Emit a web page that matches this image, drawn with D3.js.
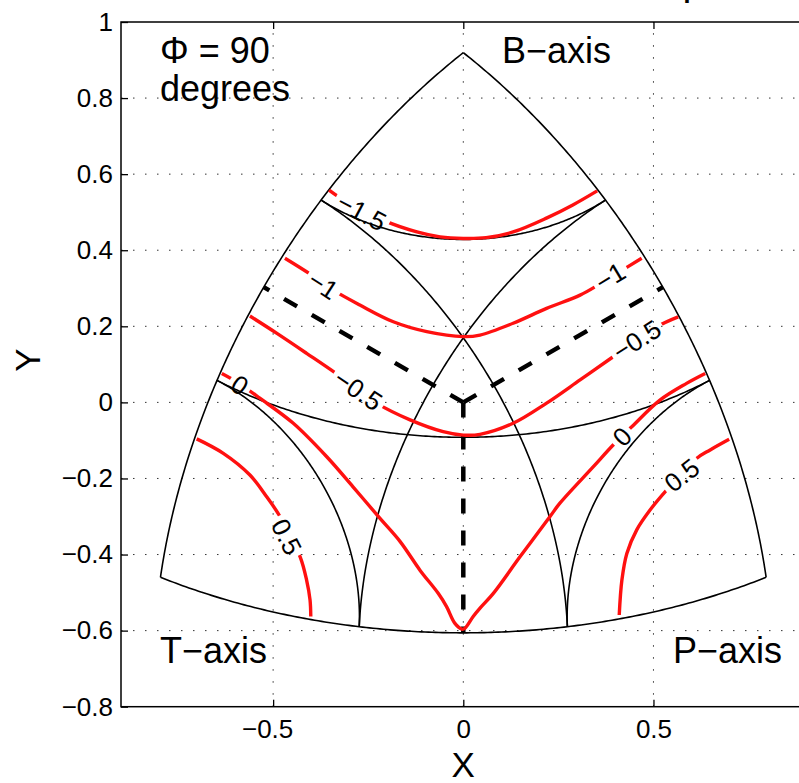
<!DOCTYPE html>
<html lang="en">
<head>
<meta charset="UTF-8">
<title>Kaverina diagram</title>
<style>
  body { margin: 0; background: #fff; }
  svg { display: block; }
  text { font-family: "Liberation Sans", Arial, Helvetica, sans-serif; fill: #000; }
</style>
</head>
<body>
<div id="wrapper"></div>
<script src="https://cdn.jsdelivr.net/npm/d3@7"></script>
<script>
{
    // ticks
    const xTicks = [-0.5, 0, 0.5];
    const yTicks = [-0.8, -0.6, -0.4, -0.2, 0, 0.2, 0.4, 0.6, 0.8, 1];

    // plunges (deg) of the class boundaries drawn in black
    const boundaryPlunges = [30, 60];

    // contour lines, [x, y]
    const contourM15 = [[-0.353, 0.558], [-0.327, 0.540], [-0.272, 0.511], [-0.211, 0.479], [-0.122, 0.448],
        [-0.061, 0.435], [0.000, 0.431], [0.060, 0.433], [0.131, 0.448], [0.220, 0.485], [0.288, 0.519], [0.352, 0.556]];
    const contourM1 = [[-0.469, 0.379], [-0.399, 0.335], [-0.342, 0.295], [-0.272, 0.256], [-0.184, 0.212],
        [-0.096, 0.186], [0.000, 0.173], [0.044, 0.177], [0.131, 0.208], [0.219, 0.247], [0.307, 0.282],
        [0.355, 0.309], [0.412, 0.344], [0.469, 0.379]];
    const contourM05 = [[-0.561, 0.227], [-0.491, 0.182], [-0.412, 0.129], [-0.333, 0.075], [-0.228, -0.002],
        [-0.140, -0.046], [-0.053, -0.077], [0.000, -0.086], [0.044, -0.084], [0.131, -0.055], [0.219, -0.002],
        [0.307, 0.059], [0.394, 0.120], [0.509, 0.199], [0.565, 0.225]];
    const contour0 = [[-0.635, 0.076], [-0.596, 0.054], [-0.535, 0.011], [-0.447, -0.055], [-0.359, -0.143],
        [-0.290, -0.222], [-0.219, -0.305], [-0.166, -0.366], [-0.114, -0.441], [-0.066, -0.502], [-0.044, -0.537],
        [-0.022, -0.581], [-0.004, -0.596], [0.004, -0.594], [0.026, -0.563], [0.044, -0.541], [0.079, -0.502],
        [0.149, -0.406], [0.228, -0.300], [0.254, -0.265], [0.342, -0.169], [0.394, -0.112], [0.443, -0.064],
        [0.517, 0.006], [0.587, 0.050], [0.636, 0.076]];
    const contour05Left = [[-0.701, -0.096], [-0.631, -0.134], [-0.561, -0.191], [-0.517, -0.248], [-0.482, -0.300],
        [-0.429, -0.406], [-0.412, -0.467], [-0.403, -0.519], [-0.401, -0.563]];
    const contour05Right = [[0.699, -0.097], [0.649, -0.125], [0.614, -0.147], [0.535, -0.230], [0.491, -0.283],
        [0.456, -0.335], [0.430, -0.397], [0.417, -0.467], [0.410, -0.559]];

    // contour labels
    const labelText = ['\u22121.5', '\u22121', '\u22121', '\u22120.5', '\u22120.5', '0', '0', '0.5', '0.5'];
    const labelX = [-0.267, -0.368, 0.386, -0.276, 0.456, -0.587, 0.417, -0.464, 0.574];
    const labelY = [0.501, 0.309, 0.331, 0.033, 0.164, 0.046, -0.090, -0.353, -0.191];
    const labelAngle = [28, 33, -31, 34, -33, 33, -45, 63, -38];

    const width = 799;
    const height = 783;

    const x = d3.scaleLinear().domain([-0.9, 0.9]).range([121, 805.6]);
    const y = d3.scaleLinear().domain([-0.8, 1]).range([706.7, 22]);

    const svg = d3.select('#wrapper').append('svg')
        .attr('width', width)
        .attr('height', height);

    svg.append('clipPath').attr('id', 'plotClip')
        .append('rect')
        .attr('x', x(-0.9)).attr('y', y(1))
        .attr('width', x(0.9) - x(-0.9)).attr('height', y(-0.8) - y(1));

    // title, cut off at the top of the picture (only the comma and the p show)
    const titleText = 'Total shear stress, stress map';
    const title = svg.append('text')
        .attr('y', -5)
        .attr('font-size', 40)
        .text(titleText);
    const beforeComma = title.node().getSubStringLength(0, titleText.indexOf(','));
    title.attr('x', 487 - beforeComma);

    // grid
    const grid = svg.append('g')
        .attr('stroke', '#333')
        .attr('stroke-width', 1)
        .attr('stroke-dasharray', '1.5,10.5');
    grid.selectAll('.gx').data(xTicks).enter().append('line')
        .attr('x1', d => x(d)).attr('x2', d => x(d))
        .attr('y1', y(-0.8)).attr('y2', y(1));
    grid.selectAll('.gy').data(yTicks.filter(d => d > -0.8 && d < 1)).enter().append('line')
        .attr('y1', d => y(d)).attr('y2', d => y(d))
        .attr('x1', x(-0.9)).attr('x2', x(0.9));

    // Kaverina projection, z = sine of the plunge of T, B, P
    function kave(zt, zb, zp) {
        const n = Math.sqrt(2 * ((zb - zp) ** 2 + (zb - zt) ** 2 + (zt - zp) ** 2));
        if (n < 1e-9) return [0, 0];
        const l = 2 * Math.sin(0.5 * Math.acos(Math.min(1, (zt + zb + zp) / Math.sqrt(3))));
        return [Math.sqrt(3) * (l / n) * (zp - zt), (l / n) * (2 * zb - zp - zt)];
    }

    // curve of constant plunge for one axis
    function arc(axis, s) {
        const r = Math.sqrt(1 - s * s);
        return d3.range(0, 181).map(i => {
            const a = i * Math.PI / 360;
            const u = r * Math.cos(a), v = r * Math.sin(a);
            if (axis === 'b') return kave(u, s, v);
            if (axis === 't') return kave(s, u, v);
            return kave(u, v, s);
        });
    }

    const line = d3.line().x(d => x(d[0])).y(d => y(d[1]));
    const plot = svg.append('g').attr('clip-path', 'url(#plotClip)');

    // outline and class boundaries
    const arcs = [];
    ['b', 't', 'p'].forEach(axis => {
        arcs.push(arc(axis, 0));
        boundaryPlunges.forEach(p => arcs.push(arc(axis, Math.sin(p * Math.PI / 180))));
    });
    plot.append('g').selectAll('path').data(arcs).enter().append('path')
        .attr('d', line)
        .attr('fill', 'none')
        .attr('stroke', '#000')
        .attr('stroke-width', 1.6);

    // dashed lines where two plunges are equal
    const h = Math.SQRT1_2;
    const dashEnds = [kave(h, h, 0), kave(0, h, h), kave(h, 0, h)];
    plot.append('g').selectAll('path').data(dashEnds).enter().append('path')
        .attr('d', d => line([[0, 0], d]))
        .attr('fill', 'none')
        .attr('stroke', '#000')
        .attr('stroke-width', 4.5)
        .attr('stroke-dasharray', '15,17');

    // mask that opens gaps in the contours under their labels
    const mask = svg.append('mask').attr('id', 'labelGaps')
        .attr('maskUnits', 'userSpaceOnUse')
        .attr('x', 0).attr('y', 0).attr('width', width).attr('height', height);
    mask.append('rect').attr('width', width).attr('height', height).attr('fill', '#fff');

    const smooth = d3.line().x(d => x(d[0])).y(d => y(d[1])).curve(d3.curveCatmullRom.alpha(0.5));
    const contours = [contourM15, contourM1, contourM05, contour0, contour05Left, contour05Right];
    plot.append('g')
        .attr('mask', 'url(#labelGaps)')
        .selectAll('path').data(contours).enter().append('path')
        .attr('d', smooth)
        .attr('fill', 'none')
        .attr('stroke', '#ff1010')
        .attr('stroke-width', 3.4)
        .attr('stroke-linejoin', 'round');

    const labels = svg.append('g').selectAll('text').data(labelText).enter().append('text')
        .attr('transform', (d, i) => `translate(${x(labelX[i])},${y(labelY[i])}) rotate(${labelAngle[i]})`)
        .attr('text-anchor', 'middle')
        .attr('dy', '0.36em')
        .attr('font-size', 26)
        .text(d => d);

    labels.each(function (d, i) {
        const w = this.getComputedTextLength() + 8;
        mask.append('rect')
            .attr('x', -w / 2).attr('y', -13)
            .attr('width', w).attr('height', 26)
            .attr('fill', '#000')
            .attr('transform', `translate(${x(labelX[i])},${y(labelY[i])}) rotate(${labelAngle[i]})`);
    });

    // axes
    const axisFont = g => g.selectAll('text').attr('font-size', 26).attr('font-family', '"Liberation Sans", Arial, sans-serif');
    svg.append('g').attr('transform', `translate(0,${y(-0.8)})`)
        .call(d3.axisBottom(x).tickValues(xTicks).tickSize(-7).tickPadding(13).tickFormat(d3.format('~g')))
        .call(g => g.select('.domain').remove())
        .call(axisFont)
        .call(g => g.selectAll('text').attr('dx', d => d < 0 ? -6 : 0));
    svg.append('g').attr('transform', `translate(0,${y(1)})`)
        .call(d3.axisTop(x).tickValues(xTicks).tickSize(-7).tickFormat(''))
        .call(g => g.select('.domain').remove());
    svg.append('g').attr('transform', `translate(${x(-0.9)},0)`)
        .call(d3.axisLeft(y).tickValues(yTicks).tickSize(-7).tickPadding(8).tickFormat(d3.format('~g')))
        .call(g => g.select('.domain').remove())
        .call(axisFont);
    svg.selectAll('.tick line').attr('stroke-width', 1.3);

    svg.append('rect')
        .attr('x', x(-0.9)).attr('y', y(1))
        .attr('width', x(0.9) - x(-0.9)).attr('height', y(-0.8) - y(1))
        .attr('fill', 'none')
        .attr('stroke', '#000')
        .attr('stroke-width', 1.5);

    // axis titles
    svg.append('text')
        .attr('x', x(0)).attr('y', 777)
        .attr('text-anchor', 'middle')
        .attr('font-size', 35)
        .text('X');
    svg.append('text')
        .attr('transform', 'translate(40,360) rotate(-90)')
        .attr('text-anchor', 'middle')
        .attr('font-size', 35)
        .text('Y');

    // annotations
    const notes = [
        ['\u03A6 = 90', 160, 63],
        ['degrees', 160, 101],
        ['B\u2212axis', 502, 63],
        ['T\u2212axis', 160, 663],
        ['P\u2212axis', 673, 663]
    ];
    svg.append('g').selectAll('text').data(notes).enter().append('text')
        .attr('x', d => d[1]).attr('y', d => d[2])
        .attr('font-size', 36)
        .text(d => d[0]);
}
</script>
</body>
</html>
